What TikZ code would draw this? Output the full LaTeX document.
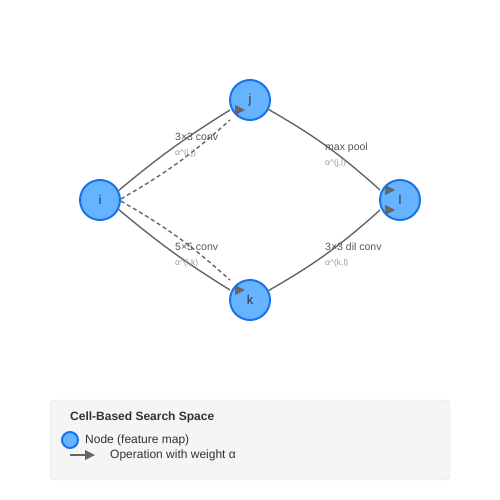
\documentclass[tikz,border=0pt]{standalone}
\usepackage{fontspec}
\setmainfont{Liberation Sans}
\definecolor{nodefill}{HTML}{66B3FF}
\definecolor{nodeedge}{HTML}{1A73E8}
\definecolor{edgegray}{HTML}{666666}
\definecolor{opgray}{HTML}{555555}
\definecolor{wgray}{HTML}{999999}
\tikzset{
  cellnode/.style={circle, draw=nodeedge, fill=nodefill, line width=2pt, minimum size=40pt, inner sep=0pt, font=\fontsize{13}{13}\selectfont, text=black!80},
  opedge/.style={draw=edgegray, line width=1.4pt},
  altedge/.style={opedge, dashed, dash pattern=on 4pt off 3pt},
  oplabel/.style={anchor=base west, inner sep=0pt, text=opgray, font=\fontsize{10.5}{10.5}\selectfont},
  wlabel/.style={anchor=base west, inner sep=0pt, text=wgray, font=\fontsize{8.5}{8.5}\selectfont},
  legtext/.style={anchor=base west, inner sep=0pt, text=black!80, font=\fontsize{12}{12}\selectfont}
}
% head of a connector, always pointing right
\newcommand{\ophead}[1]{\fill[edgegray, shift={(#1)}] (5,-5) -- (15,0) -- (5,5) -- cycle;}
\begin{document}
\begin{tikzpicture}[x=1pt, y=-1pt]
\useasboundingbox (0,0) rectangle (500,500);
% cell nodes
\node[cellnode] (i) at (100,200) {i};
\node[cellnode] (j) at (250,100) {j};
\node[cellnode] (k) at (250,300) {k};
\node[cellnode] (l) at (400,200) {l};
% operations
\coordinate (ij) at (230,110);
\coordinate (ik) at (230,290);
\coordinate (jl) at (380,190);
\coordinate (kl) at (380,210);
\coordinate (ijalt) at (230,120);
\coordinate (ikalt) at (230,280);
\draw[opedge] (i.27) to[bend left=4] (ij);
\draw[altedge] (i.3) to[bend right=6] (ijalt);
\draw[opedge] (i.333) to[bend right=4] (ik);
\draw[altedge] (i.357) to[bend left=6] (ikalt);
\draw[opedge] (j.333) to[bend left=6] (jl);
\draw[opedge] (k.27) to[bend right=6] (kl);
\ophead{ij}
\ophead{ik}
\ophead{jl}
\ophead{kl}
% labels
\node[oplabel] (opij) at (175,140) {3×3 conv};
\node[wlabel] (wij) at (175,155) {α\^{}(i,j)};
\node[oplabel] (opjl) at (325,150) {max pool};
\node[wlabel] (wjl) at (325,165) {α\^{}(j,l)};
\node[oplabel] (opik) at (175,250) {5×5 conv};
\node[wlabel] (wik) at (175,265) {α\^{}(i,k)};
\node[oplabel] (opkl) at (325,250) {3×3 dil conv};
\node[wlabel] (wkl) at (325,265) {α\^{}(k,l)};
% legend
\draw[draw=black!13, fill=black!4, rounded corners=5pt] (50,400) rectangle (450,480);
\node[legtext, font=\fontsize{12}{12}\selectfont\bfseries] (legtitle) at (70,420) {Cell-Based Search Space};
\node[circle, draw=nodeedge, fill=nodefill, line width=2pt, minimum size=16pt, inner sep=0pt] (legnode) at (70,440) {};
\node[legtext] (legnodetext) at (85,443) {Node (feature map)};
\coordinate (legA) at (70,455);
\coordinate (legB) at (85,455);
\draw[opedge] (legA) -- (legB);
\fill[edgegray] (85,450) -- (95,455) -- (85,460) -- cycle;
\node[legtext] (legoptext) at (110,458) {Operation with weight α};
\end{tikzpicture}
\end{document}
